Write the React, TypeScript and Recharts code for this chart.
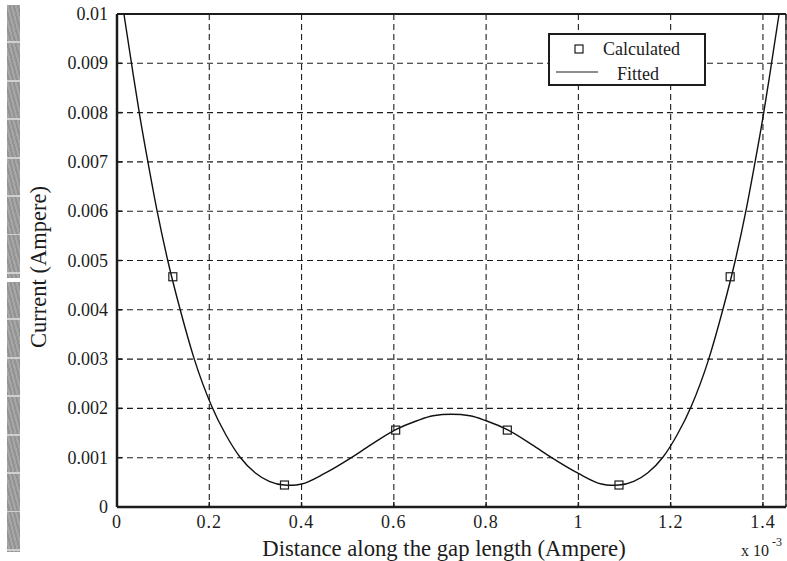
import React from "react";
import { ComposedChart, Line, Scatter, XAxis, YAxis, CartesianGrid, ReferenceLine } from "recharts";

// fitted curve (x in 1e-3, current in A)
const fitX = [0.015, 0.033, 0.05, 0.067, 0.087, 0.11, 0.137, 0.1675, 0.205, 0.235, 0.266, 0.3, 0.33, 0.362, 0.38, 0.4, 0.45, 0.508, 0.55, 0.602, 0.65, 0.685, 0.725, 0.765, 0.8, 0.848, 0.9, 0.942, 1.0, 1.05, 1.07, 1.088, 1.12, 1.15, 1.184, 1.215, 1.245, 1.2825, 1.313, 1.34, 1.363, 1.383, 1.4, 1.417, 1.435];
const fitY = [0.01, 0.0089, 0.0079, 0.007, 0.006, 0.005, 0.004, 0.003, 0.00205, 0.00148, 0.00102, 0.00069, 0.00052, 0.000446, 0.00044, 0.000466, 0.00068, 0.001, 0.00126, 0.00156, 0.00175, 0.00185, 0.00188, 0.00185, 0.00175, 0.00156, 0.00126, 0.001, 0.00068, 0.000466, 0.00044, 0.000446, 0.00052, 0.00069, 0.00102, 0.00148, 0.00205, 0.003, 0.004, 0.005, 0.006, 0.007, 0.0079, 0.0089, 0.01];

// calculated points
const calcX = [0.121, 0.363, 0.604, 0.846, 1.088, 1.329];
const calcY = [0.00467, 0.000446, 0.00156, 0.00156, 0.000446, 0.00467];

const xTicks = [0, 0.2, 0.4, 0.6, 0.8, 1, 1.2, 1.4];
const xTickLabels = ["0", "0.2", "0.4", "0.6", "0.8", "1", "1.2", "1.4"];
const yTicks = [0, 0.001, 0.002, 0.003, 0.004, 0.005, 0.006, 0.007, 0.008, 0.009, 0.01];
const yTickLabels = ["0", "0.001", "0.002", "0.003", "0.004", "0.005", "0.006", "0.007", "0.008", "0.009", "0.01"];

const fitted = fitX.map((x, i) => ({ x, y: fitY[i] }));
const calculated = calcX.map((x, i) => ({ x, y: calcY[i] }));

const serif = "Liberation Serif, Times New Roman, Times, Tinos, DejaVu Serif, Noto Serif, serif";
const ink = "#1c1c1c";
const txt = { fontFamily: serif };

const XTick = ({ x, y, index }: any) => (
  <g>
    <line x1={x} y1={y} x2={x} y2={y - 5} stroke={ink} strokeWidth={1.5} />
    <text x={x} y={y + 21} textAnchor="middle" fontSize={18} style={txt} fill={ink} letterSpacing={1}>
      {xTickLabels[index]}
    </text>
  </g>
);

const YTick = ({ x, y, index }: any) => (
  <g>
    <line x1={x} y1={y} x2={x + 5} y2={y} stroke={ink} strokeWidth={1.5} />
    <text x={x - 9} y={y + 6} textAnchor="end" fontSize={18} style={txt} fill={ink}>
      {yTickLabels[index]}
    </text>
  </g>
);

const Square = ({ cx, cy }: any) => (
  <rect x={cx - 4} y={cy - 4} width={8} height={8} fill="none" stroke={ink} strokeWidth={1.2} />
);

const barStyle = {
  position: "absolute" as const,
  left: 7,
  width: 13,
  background:
    "repeating-linear-gradient(to bottom, transparent 0 36.5px, #d0d0d0 36.5px 38.4px), repeating-linear-gradient(75deg, #939393 0 2px, #a6a6a6 2px 4px)",
};

export default function App() {
  return (
    <div style={{ position: "absolute", left: 0, top: 0, width: 787, height: 561, background: "#fff", fontFamily: serif }}>
      <div style={{ ...barStyle, top: 5, height: 273 }} />
      <div style={{ ...barStyle, top: 282, height: 270 }} />
      <div style={{ position: "absolute", left: 0, top: 0 }}>
        <ComposedChart width={787} height={561} margin={{ top: 14, right: 1, bottom: 0, left: 0 }}>
          <CartesianGrid stroke="#1e1e1e" strokeDasharray="6 4" strokeWidth={1.1} />
          <XAxis
            type="number"
            dataKey="x"
            domain={[0, 1.45]}
            ticks={xTicks}
            height={54}
            tickSize={0}
            tickMargin={0}
            tick={<XTick />}
            axisLine={{ stroke: ink, strokeWidth: 2.5 }}
            tickLine={false}
            allowDataOverflow
          />
          <YAxis
            type="number"
            dataKey="y"
            domain={[0, 0.01]}
            ticks={yTicks}
            width={117}
            tickSize={0}
            tickMargin={0}
            tick={<YTick />}
            axisLine={{ stroke: ink, strokeWidth: 2.5 }}
            tickLine={false}
            allowDataOverflow
          />
          <ReferenceLine y={0.01} stroke={ink} strokeWidth={2} />
          <ReferenceLine x={1.45} stroke={ink} strokeWidth={1.2} />
          <Line data={fitted} dataKey="y" type="monotone" stroke="#111" strokeWidth={1.4} dot={false} isAnimationActive={false} />
          <Scatter data={calculated} dataKey="y" shape={<Square />} isAnimationActive={false} />
        </ComposedChart>
      </div>
      {/* axis titles */}
      <svg width={787} height={561} style={{ position: "absolute", left: 0, top: 0, pointerEvents: "none" }}>
        <g style={txt} fill={ink}>
          <text x={444} y={556} textAnchor="middle" fontSize={22.7} style={txt}>
            Distance along the gap length (Ampere)
          </text>
          <text x={741} y={556} fontSize={16} style={txt}>
            x 10
            <tspan fontSize={12} dx={3} dy={-10}>-3</tspan>
          </text>
          <text x={46} y={267} transform="rotate(-90 46 267)" textAnchor="middle" fontSize={22.5} style={txt}>
            Current (Ampere)
          </text>
        </g>
      </svg>
      {/* legend */}
      <div
        style={{
          position: "absolute",
          left: 548,
          top: 33,
          width: 154,
          height: 49,
          border: `2px solid ${ink}`,
          background: "#fff",
        }}
      >
        <svg width={154} height={49} style={{ position: "absolute", left: 0, top: 0 }}>
          <rect x={25} y={10} width={8} height={8} fill="none" stroke={ink} strokeWidth={1.2} />
          <line x1={6} y1={37} x2={48} y2={37} stroke={ink} strokeWidth={1.2} />
          <text x={53} y={20} fontSize={18} style={txt} fill={ink}>Calculated</text>
          <text x={67} y={45} fontSize={18} style={txt} fill={ink}>Fitted</text>
        </svg>
      </div>
    </div>
  );
}
